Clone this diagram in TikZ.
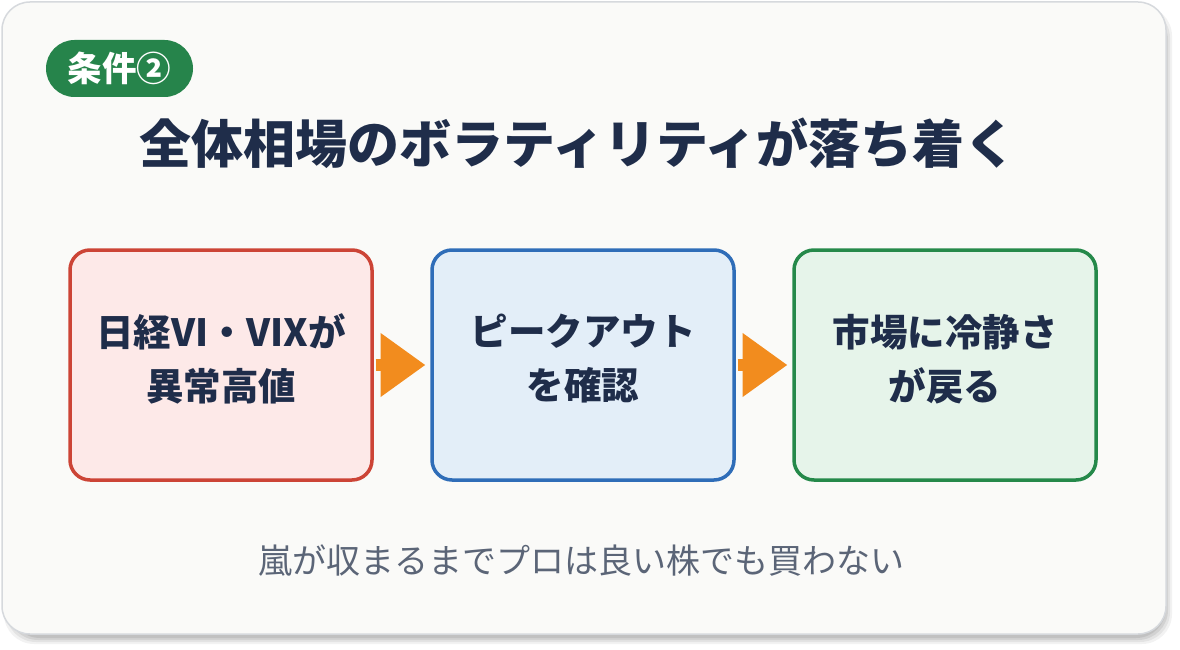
\documentclass[tikz,border=0pt]{standalone}
\usepackage{fontspec}
\setmainfont{Noto Sans CJK JP}
\usetikzlibrary{arrows.meta}
\definecolor{cardbg}{HTML}{FAFAF8}
\definecolor{cardline}{HTML}{D6D9DD}
\definecolor{badgegreen}{HTML}{26844B}
\definecolor{navy}{HTML}{1F2D4A}
\definecolor{subgrey}{HTML}{5B6577}
\definecolor{redline}{HTML}{CC4436}
\definecolor{redfill}{HTML}{FDE9E8}
\definecolor{blueline}{HTML}{2F6DB8}
\definecolor{bluefill}{HTML}{E3EEF8}
\definecolor{greenline}{HTML}{25894A}
\definecolor{greenfill}{HTML}{E6F4EA}
\definecolor{arroworange}{HTML}{F28C1E}
\tikzset{
  stepbox/.style={rounded corners=20pt, line width=3.5pt, minimum width=302pt, minimum height=230pt,
    inner sep=0pt, outer sep=0pt},
  boxtext/.style={inner sep=0pt, align=center, text=navy,
    font=\bfseries\fontsize{37.5}{54}\selectfont},
  flowarrow/.style={draw=arroworange, line width=12pt,
    -{Triangle[width=61pt,length=45pt,fill=arroworange]}, shorten <=3.5pt, shorten >=6.5pt}
}
\begin{document}
\begin{tikzpicture}[x=1pt,y=-1pt]
\useasboundingbox (0,0) rectangle (1180,650);
\fill[white] (0,0) rectangle (1180,650);
% shadow
\foreach \i/\o in {0/0.05,2/0.06,4/0.07,6/0.08}{
  \fill[black,opacity=\o,rounded corners=30pt] (4+\i,6+\i) rectangle (1172-\i,644-\i);
}
% card
\node[draw=cardline, fill=cardbg, line width=1.5pt, rounded corners=28pt, inner sep=0pt,
  minimum width=1164pt, minimum height=632pt] (card) at (584,318) {};
% badge
\node[fill=badgegreen, rounded corners=28.5pt, minimum width=147pt, minimum height=57pt,
  inner sep=0pt, text=white, font=\bfseries\fontsize{34.5}{34.5}\selectfont] (badge) at (119.5,68.5) {条件②};
% title
\node[text=navy, font=\bfseries\fontsize{52}{52}\selectfont, inner sep=0pt] (title) at (578,143)
  {全体相場のボラティリティが落ち着く};
% boxes
\node[stepbox, draw=redline, fill=redfill] (b1) at (221,365) {};
\node[stepbox, draw=blueline, fill=bluefill] (b2) at (583,365) {};
\node[stepbox, draw=greenline, fill=greenfill] (b3) at (945,365) {};
\node[boxtext] (t1) at (221,359) {日経VI・VIXが\\異常高値};
\node[boxtext] (t2) at (583,359) {ピークアウト\\を確認};
\node[boxtext] (t3) at (945,359) {市場に冷静さ\\が戻る};
% arrows
\draw[flowarrow] (b1.east) -- (b2.west);
\draw[flowarrow] (b2.east) -- (b3.west);
% bottom text
\node[text=subgrey, font=\fontsize{34}{34}\selectfont, inner sep=0pt] (note) at (581,561)
  {嵐が収まるまでプロは良い株でも買わない};
\end{tikzpicture}
\end{document}
